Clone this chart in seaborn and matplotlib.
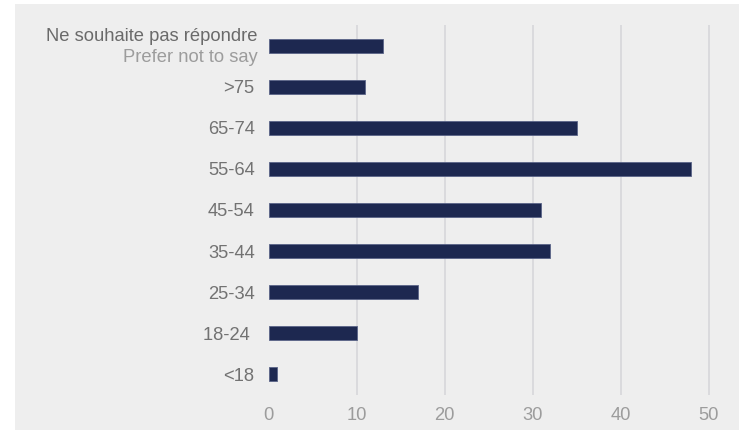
import matplotlib
matplotlib.use("Agg")
import matplotlib.pyplot as plt
import seaborn as sns
import pandas as pd
from matplotlib.patches import Rectangle

categories = ["Ne souhaite pas répondre\nPrefer not to say", ">75", "65-74", "55-64",
              "45-54", "35-44", "25-34", "18-24 ", "<18"]
values = [13, 11, 35, 48, 31, 32, 17, 10, 1]
xticks = [0, 10, 20, 30, 40, 50]

df = pd.DataFrame({"age": categories, "count": values})

sns.set_theme(style="white")
plt.rcParams["font.family"] = ["Liberation Sans", "DejaVu Sans"]

W, H = 739, 430
fig = plt.figure(figsize=(W / 100, H / 100), dpi=100, facecolor="white")
fig.patches.append(Rectangle((15 / W, 0), 1 - 15 / W, (H - 4) / H,
                             transform=fig.transFigure, facecolor="#eeeeee",
                             edgecolor="none", zorder=-10))

x0 = 268.5
ppu = 8.8
xmax = 52.5
ax = fig.add_axes([x0 / W, 35 / H, xmax * ppu / W, 370 / H])
ax.set_facecolor("none")
ax.patch.set_alpha(0)

sns.barplot(data=df, x="count", y="age", order=categories, orient="h",
            color="#1d2850", saturation=1, width=0.34, ax=ax,
            edgecolor="#5a6488", linewidth=0.6)

FS = 13.2
ax.set_xlim(0, xmax)
ax.set_ylim(len(categories) - 0.5, -0.5)
ax.set_xticks(xticks)
ax.set_xticklabels([str(t) for t in xticks], fontsize=FS, color="#9c9c9c")
for t in xticks[1:]:
    ax.axvline(t, color="#d6d6da", linewidth=1.2, zorder=0)
ax.set_axisbelow(True)
for s in ax.spines.values():
    s.set_visible(False)
ax.tick_params(axis="both", length=0)
ax.tick_params(axis="x", pad=9)
ax.tick_params(axis="y", pad=10)
labels = [c if i > 0 else "" for i, c in enumerate(categories)]
ax.set_yticks(range(len(categories)))
ax.set_yticklabels(labels, fontsize=FS, color="#727272")
ax.set_xlabel("")
ax.set_ylabel("")

ax.text(-10.5 / ppu, -0.22, "Ne souhaite pas répondre", ha="right", va="center",
        fontsize=FS, color="#6a6a6a")
ax.text(-10.5 / ppu, 0.29, "Prefer not to say", ha="right", va="center",
        fontsize=FS, color="#9c9c9c")

fig.savefig("out.png", dpi=100, facecolor="white")
